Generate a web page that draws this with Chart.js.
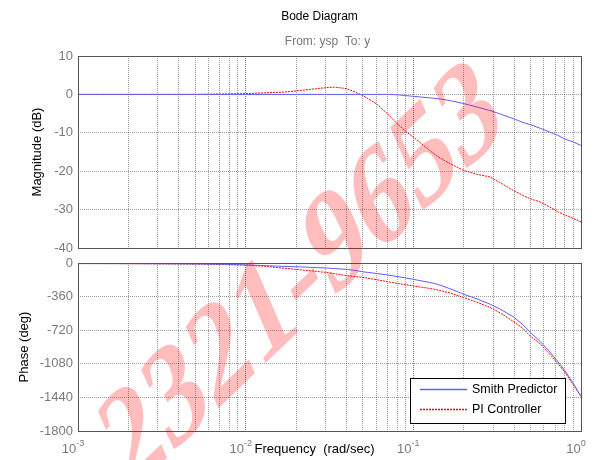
<!DOCTYPE html>
<html><head><meta charset="utf-8">
<script src="https://cdn.jsdelivr.net/npm/chart.js@4"></script>
<style>
html,body{margin:0;padding:0;background:#fff;}
#wrap{position:relative;width:595px;height:460px;overflow:hidden;}
canvas{position:absolute;left:0;top:0;}
</style></head><body>
<div id="wrap">
<canvas id="mag" width="595" height="460"></canvas>
<canvas id="pha" width="595" height="460"></canvas>
</div>
<script>
// ---- data ----
const freq = [0.001, 0.002, 0.003, 0.005, 0.007, 0.01, 0.013, 0.0167, 0.02, 0.0265, 0.031, 0.034, 0.04, 0.045, 0.05, 0.06, 0.07, 0.08, 0.09, 0.1, 0.125, 0.14, 0.165, 0.2, 0.24, 0.286, 0.33, 0.394, 0.45, 0.5, 0.57, 0.65, 0.73, 0.8, 0.9, 1.0];
const smithMag = [0, 0, 0, 0, 0, 0, 0, 0, 0, 0, 0, 0, 0, 0, 0, 0, 0, -0.1, -0.3, -0.5, -0.9, -1.1, -1.6, -2.4, -3.3, -4.2, -5.1, -6.3, -7.3, -7.9, -8.8, -9.8, -10.7, -11.6, -12.4, -13.3];
const piMag = [0, 0, 0, 0, 0.1, 0.2, 0.4, 0.6, 0.9, 1.5, 1.8, 1.9, 1.5, 0.6, -0.3, -2.4, -5.0, -7.6, -9.6, -11.1, -14.6, -16.2, -18.0, -19.8, -20.8, -21.5, -23.0, -25.0, -26.3, -27.2, -28.0, -29.3, -30.6, -31.4, -32.3, -33.2];
const smithPhase = [-6, -7, -8, -10, -13, -20, -28, -36, -40, -49, -55, -60, -68, -80, -94, -112, -128, -145, -160, -175, -208, -229, -275, -335, -385, -440, -495, -575, -660, -745, -840, -950, -1060, -1150, -1290, -1430];
const piPhase = [-6, -7, -9, -12, -16, -22, -35, -55, -68, -90, -104, -115, -135, -145, -154, -178, -200, -218, -232, -246, -272, -289, -320, -370, -420, -475, -535, -625, -700, -785, -865, -975, -1080, -1170, -1305, -1430];
const seriesNames = ['Smith Predictor', 'PI Controller'];
const magTicks = [10, 0, -10, -20, -30, -40];
const phaseTicks = [0, -360, -720, -1080, -1440, -1800];
const freqDecades = [-3, -2, -1, 0];
const titleText = 'Bode Diagram';
const subtitleText = 'From: ysp  To: y';
const xTitleText = 'Frequency  (rad/sec)';
const watermarkText = '2321-9653';

// ---- styling ----
const FONT = "'Liberation Sans', Arial, sans-serif";
const TICK_COLOR = '#7a7a7a';
const seriesColors = ['rgb(95,95,255)', 'rgb(255,0,0)'];
const seriesDash = [[], [2, 1]];

function pts(ys) { return freq.map((f, i) => ({x: f, y: ys[i]})); }
function logTicks(scale) {
  const t = [];
  for (let e = freqDecades[0]; e < freqDecades[freqDecades.length - 1]; e++)
    for (let m = 1; m < 10; m++) t.push({value: m * Math.pow(10, e)});
  t.push({value: Math.pow(10, freqDecades[freqDecades.length - 1])});
  scale.ticks = t;
}
function isDecade(v) { const l = Math.log10(v); return Math.abs(l - Math.round(l)) < 1e-9; }
function xAxis() {
  return {
    type: 'logarithmic',
    min: Math.pow(10, freqDecades[0]),
    max: Math.pow(10, freqDecades[freqDecades.length - 1]),
    afterBuildTicks: logTicks,
    ticks: {display: false},
    grid: {drawTicks: false, lineWidth: 1,
      color: c => (c.tick && isDecade(c.tick.value)) ? 'rgba(0,0,0,0.55)' : 'rgba(0,0,0,0.38)'},
    border: {display: false, dash: [1, 1]}
  };
}
function yAxis(tickList, title, titlePad) {
  return {
    min: Math.min(...tickList), max: Math.max(...tickList),
    afterBuildTicks: s => { s.ticks = tickList.map(v => ({value: v})); },
    afterFit: s => { s.width = 78; },
    ticks: {color: TICK_COLOR, font: {family: FONT, size: 13}, padding: 5, callback: v => String(v)},
    grid: {drawTicks: false, color: 'rgba(0,0,0,0.38)', lineWidth: 1},
    border: {display: false, dash: [1, 1]},
    title: {display: true, text: title, color: '#000', font: {family: FONT, size: 13}, padding: {top: titlePad, bottom: 0}}
  };
}
function boxPlugin(id) {
  return {id: id, afterDatasetsDraw(chart) {
    const {ctx, chartArea: a} = chart;
    ctx.save(); ctx.strokeStyle = '#555'; ctx.lineWidth = 1; ctx.setLineDash([]);
    ctx.strokeRect(Math.round(a.left) + 0.5, Math.round(a.top) + 0.5, Math.round(a.right - a.left), Math.round(a.bottom - a.top));
    ctx.restore();
  }};
}
const titlePlugin = {id: 'titles', afterDraw(chart) {
  const ctx = chart.ctx; const a = chart.chartArea; const cx = (a.left + a.right) / 2;
  ctx.save(); ctx.textAlign = 'center'; ctx.textBaseline = 'alphabetic';
  ctx.font = `12px ${FONT}`; ctx.fillStyle = '#000';
  ctx.fillText(titleText, cx - 10, 20);
  ctx.fillStyle = '#777';
  ctx.fillText(subtitleText, cx - 2, 45);
  ctx.restore();
}};
const xLabelPlugin = {id: 'xlabels', afterDraw(chart) {
  const ctx = chart.ctx; const xs = chart.scales.x; const a = chart.chartArea;
  const base = a.bottom + 22;
  ctx.save(); ctx.textBaseline = 'alphabetic'; ctx.textAlign = 'left';
  for (const d of freqDecades) {
    const px = xs.getPixelForValue(Math.pow(10, d));
    ctx.font = `13px ${FONT}`; const wb = ctx.measureText('10').width;
    ctx.font = `9px ${FONT}`; const we = ctx.measureText(String(d)).width;
    const start = px - (wb + we) / 2 - 5;
    ctx.fillStyle = TICK_COLOR;
    ctx.font = `13px ${FONT}`; ctx.fillText('10', start, base);
    ctx.font = `9px ${FONT}`; ctx.fillText(String(d), start + wb, base - 7);
  }
  ctx.font = `13px ${FONT}`; ctx.fillStyle = '#000'; ctx.textAlign = 'center';
  ctx.fillText(xTitleText, (a.left + a.right) / 2 - 15, base);
  ctx.restore();
}};
const legendPlugin = {id: 'legendBox', afterDraw(chart) {
  const ctx = chart.ctx; const a = chart.chartArea;
  const w = 155, h = 45; const lx = Math.round(a.right - 16 - w), ly = Math.round(a.bottom - 8 - h);
  ctx.save();
  ctx.fillStyle = '#fff'; ctx.fillRect(lx, ly, w, h);
  ctx.strokeStyle = '#000'; ctx.lineWidth = 1; ctx.strokeRect(lx + 0.5, ly + 0.5, w, h);
  chart.data.datasets.forEach((ds, i) => {
    const y = ly + 11.5 + i * 20;
    ctx.save();
    ctx.strokeStyle = seriesColors[i]; ctx.lineWidth = 1.3; ctx.setLineDash(seriesDash[i].slice());
    ctx.beginPath(); ctx.moveTo(lx + 10, y); ctx.lineTo(lx + 57, y); ctx.stroke();
    ctx.restore();
    ctx.fillStyle = '#000'; ctx.font = `12.5px ${FONT}`; ctx.textBaseline = 'middle'; ctx.textAlign = 'left';
    ctx.fillText(ds.label, lx + 62, y);
  });
  ctx.restore();
}};
const watermarkPlugin = {id: 'watermark', afterDraw(chart) {
  const ctx = chart.ctx;
  ctx.save();
  // baseline runs up-right, glyphs lean less (sheared, slightly condensed)
  ctx.transform(0.65, -0.625, 0.40, 0.92, 299, 272);
  ctx.font = "bold 135px 'Liberation Serif', 'Times New Roman', serif";
  ctx.fillStyle = 'rgba(255,0,0,0.26)'; ctx.textAlign = 'center'; ctx.textBaseline = 'alphabetic';
  ctx.fillText(watermarkText, 0, 45);
  ctx.restore();
}};

function datasets(a, b) {
  return [a, b].map((vals, i) => ({
    label: seriesNames[i], data: pts(vals), borderColor: seriesColors[i], borderWidth: 1,
    borderDash: seriesDash[i], pointRadius: 0, tension: 0, fill: false
  }));
}
const common = {responsive: false, animation: false, devicePixelRatio: 1,
  plugins: {legend: {display: false}, title: {display: false}, tooltip: {enabled: false}}};

new Chart(document.getElementById('mag'), {
  type: 'line',
  data: {datasets: datasets(smithMag, piMag)},
  options: Object.assign({}, common, {
    layout: {padding: {top: 56, left: 0, right: 14, bottom: 212}},
    scales: {x: xAxis(), y: yAxis(magTicks, 'Magnitude (dB)', 29.8)}
  }),
  plugins: [boxPlugin('box1'), titlePlugin]
});
new Chart(document.getElementById('pha'), {
  type: 'line',
  data: {datasets: datasets(smithPhase, piPhase)},
  options: Object.assign({}, common, {
    layout: {padding: {top: 263, left: 0, right: 14, bottom: 29}},
    scales: {x: xAxis(), y: yAxis(phaseTicks, 'Phase (deg)', 16.8)}
  }),
  plugins: [boxPlugin('box2'), xLabelPlugin, legendPlugin, watermarkPlugin]
});
</script>
</body></html>
